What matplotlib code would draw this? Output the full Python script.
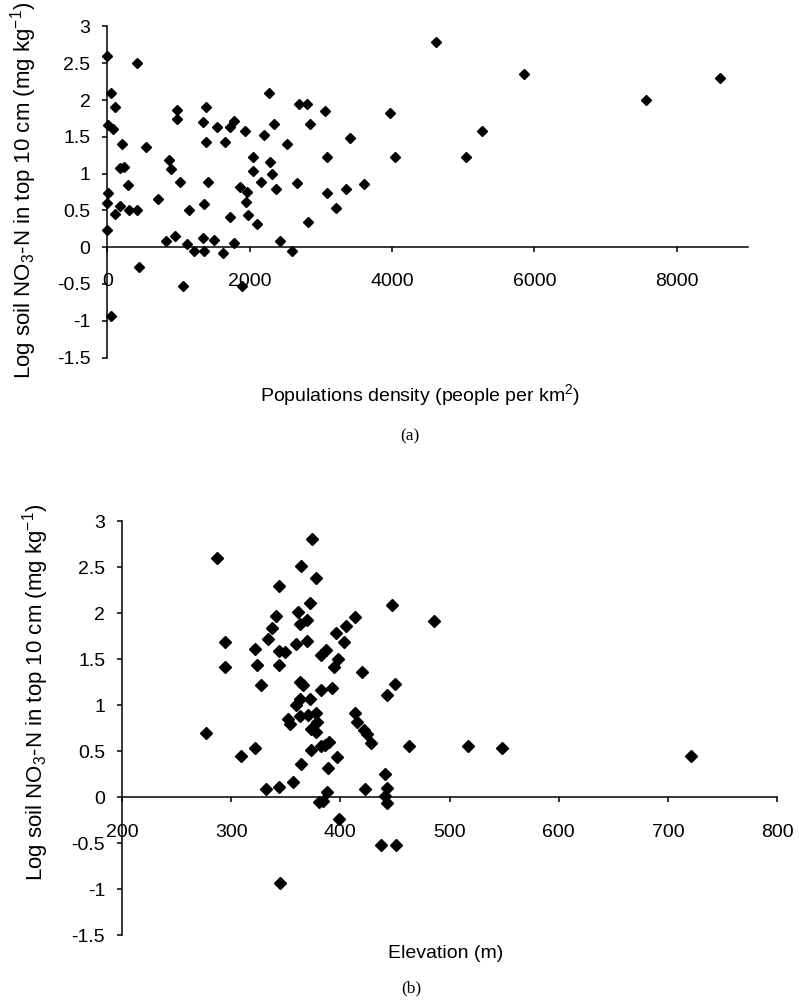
import numpy as np
import matplotlib
matplotlib.use("Agg")
import matplotlib.pyplot as plt

plt.rcParams['font.family'] = ['Liberation Sans', 'DejaVu Sans']
plt.rcParams['mathtext.fontset'] = 'custom'
plt.rcParams['mathtext.rm'] = 'Liberation Sans'
plt.rcParams['mathtext.it'] = 'Liberation Sans:italic'
plt.rcParams['axes.unicode_minus'] = False

# (a) population density vs log soil NO3-N
density = [0, 414, 47, 103, 14, 75, 207, 540, 179, 240, 296, 14, 0, 108, 179, 310, 423, 0,
           451, 47, 719, 865, 893, 978, 978, 1025, 827, 954, 1062, 1151, 1119, 1213, 1354,
           1354, 1344, 1391, 1391, 1410, 1340, 1495, 1542, 1650, 1626, 1720, 1777, 1720,
           1777, 1932, 1857, 1965, 1955, 1974, 1894, 2096, 2049, 2049, 2153, 2200, 2284,
           2308, 2364, 2341, 2270, 2421, 2594, 2529, 2670, 2693, 2801, 2844, 2815, 3060,
           3079, 3079, 3210, 3351, 3408, 3610, 3972, 4047, 4611, 5043, 5265, 5851, 7565,
           8609]
no3_a = [2.60, 2.50, 2.10, 1.90, 1.66, 1.60, 1.40, 1.36, 1.07, 1.09, 0.84, 0.73, 0.60, 0.45,
         0.56, 0.51, 0.51, 0.24, -0.27, -0.94, 0.66, 1.18, 1.06, 1.86, 1.74, 0.89, 0.08,
         0.15, -0.53, 0.51, 0.04, -0.05, -0.05, 0.59, 1.70, 1.90, 1.43, 0.89, 0.13, 0.10,
         1.64, 1.43, -0.08, 0.41, 0.05, 1.63, 1.71, 1.58, 0.82, 0.75, 0.61, 0.44, -0.53,
         0.32, 1.22, 1.04, 0.89, 1.52, 1.16, 0.99, 0.79, 1.68, 2.10, 0.08, -0.05, 1.40,
         0.87, 1.94, 1.94, 1.67, 0.34, 1.85, 1.23, 0.73, 0.53, 0.79, 1.48, 0.86, 1.83,
         1.23, 2.79, 1.23, 1.58, 2.36, 2.00, 2.30]

# (b) elevation vs log soil NO3-N
elevation = [287, 294, 294, 277, 309, 322, 322, 324, 327, 332, 344, 344, 341, 337, 334,
             344, 349, 344, 357, 364, 374, 378, 372, 361, 363, 369, 359, 369, 363, 366,
             363, 359, 372, 382, 392, 382, 387, 394, 398, 396, 403, 405, 413, 420, 447,
             443, 450, 413, 415, 422, 424, 428, 352, 354, 363, 370, 378, 373, 379, 378,
             373, 382, 386, 390, 397, 389, 364, 380, 384, 388, 399, 423, 441, 443, 441,
             443, 486, 463, 517, 548, 721, 345, 437, 451]
no3_b = [2.60, 1.68, 1.41, 0.70, 0.45, 0.53, 1.61, 1.43, 1.22, 0.09, 0.11, 2.29, 1.97,
         1.84, 1.72, 1.59, 1.58, 1.43, 0.16, 2.51, 2.80, 2.38, 2.11, 2.01, 1.88, 1.92,
         1.66, 1.70, 1.25, 1.22, 1.07, 1.00, 1.07, 1.16, 1.18, 1.54, 1.60, 1.41, 1.50,
         1.78, 1.68, 1.86, 1.96, 1.36, 2.09, 1.11, 1.23, 0.91, 0.81, 0.73, 0.69, 0.59,
         0.85, 0.79, 0.88, 0.89, 0.91, 0.74, 0.82, 0.71, 0.51, 0.55, 0.57, 0.60, 0.43,
         0.31, 0.36, -0.05, -0.04, 0.05, -0.24, 0.09, 0.25, 0.10, 0.01, -0.07, 1.91,
         0.55, 0.55, 0.53, 0.45, -0.93, -0.52, -0.52]

y_ticks = [-1.5, -1, -0.5, 0, 0.5, 1, 1.5, 2, 2.5, 3]
y_ticklabels = ['-1.5', '-1', '-0.5', '0', '0.5', '1', '1.5', '2', '2.5', '3']
ylabel = 'Log soil NO$\\mathregular{_3}$-N in top 10 cm (mg kg$\\mathregular{^{-1}}$)'


def style_axes(ax, xmin, xmax, xticks, xpad):
    ax.set_xlim(xmin, xmax)
    ax.set_ylim(-1.5, 3)
    ax.spines['top'].set_visible(False)
    ax.spines['right'].set_visible(False)
    ax.spines['bottom'].set_position(('data', 0))
    ax.spines['left'].set_linewidth(1.1)
    ax.spines['bottom'].set_linewidth(1.1)
    ax.set_xticks(xticks)
    ax.set_xticklabels([str(t) for t in xticks])
    ax.set_yticks(y_ticks)
    ax.set_yticklabels(y_ticklabels)
    ax.tick_params(axis='y', direction='out', length=3.6, width=1.1, pad=8.5, labelsize=14)
    ax.tick_params(axis='x', direction='out', length=3.6, width=1.1, pad=xpad, labelsize=14)
    ax.patch.set_visible(False)


fig = plt.figure(figsize=(7.99, 10), dpi=100)

ax1 = fig.add_axes([0.1343, 0.6425, 0.8019, 0.331])
ax1.plot(density, no3_a, linestyle='none', marker='D', ms=5.3, color='black', clip_on=False)
style_axes(ax1, 0, 9000, [0, 2000, 4000, 6000, 8000], 15)
fig.text(24 / 799, 1 - 190 / 1000, ylabel, rotation=90, ha='center', va='center', fontsize=16)
fig.text(420 / 799, 1 - 395 / 1000, 'Populations density (people per km$\\mathregular{^2}$)',
         ha='center', va='center', fontsize=14)
fig.text(410 / 799, 1 - 436 / 1000, '(a)', ha='center', va='center', fontsize=12.5,
         family='Liberation Serif')

ax2 = fig.add_axes([0.1527, 0.065, 0.8198, 0.414])
ax2.plot(elevation, no3_b, linestyle='none', marker='D', ms=5.8, color='black', clip_on=False)
style_axes(ax2, 200, 800, [200, 300, 400, 500, 600, 700, 800], 16)
fig.text(36 / 799, 1 - 692 / 1000, ylabel, rotation=90, ha='center', va='center', fontsize=16)
fig.text(446 / 799, 1 - 953 / 1000, 'Elevation (m)', ha='center', va='center', fontsize=14)
fig.text(411 / 799, 1 - 988 / 1000, '(b)', ha='center', va='center', fontsize=12.5,
         family='Liberation Serif')

fig.savefig('out.png', dpi=100)
